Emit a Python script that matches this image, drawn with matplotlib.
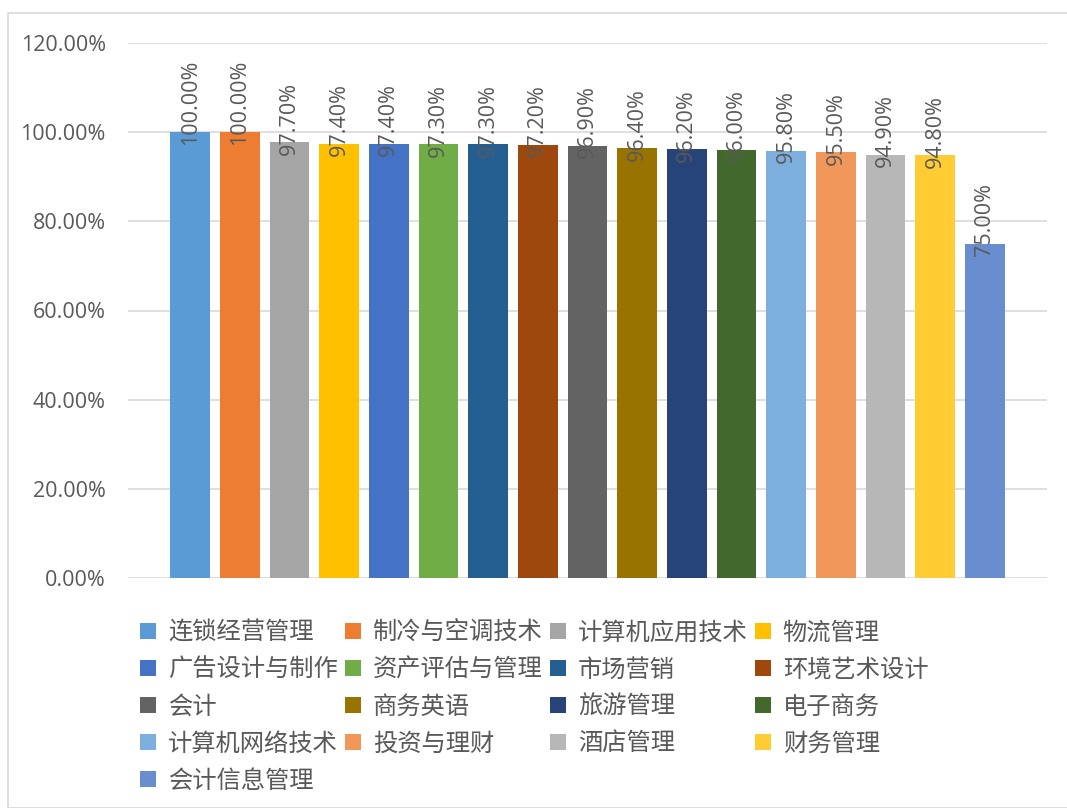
import matplotlib
matplotlib.use("Agg")
import matplotlib.pyplot as plt
from matplotlib.patches import Patch, Rectangle
from matplotlib.ticker import FuncFormatter

plt.rcParams["font.family"] = ["Noto Sans CJK SC", "DejaVu Sans"]
NUM_FONT = ["Open Sans", "DejaVu Sans"]

# majors and their rates (percent)
majors = ["连锁经营管理", "制冷与空调技术", "计算机应用技术", "物流管理",
          "广告设计与制作", "资产评估与管理", "市场营销", "环境艺术设计",
          "会计", "商务英语", "旅游管理", "电子商务",
          "计算机网络技术", "投资与理财", "酒店管理", "财务管理",
          "会计信息管理"]
rates = [100.00, 100.00, 97.70, 97.40, 97.40, 97.30, 97.30, 97.20,
         96.90, 96.40, 96.20, 96.00, 95.80, 95.50, 94.90, 94.80, 75.00]
colors = ["#5B9BD5", "#ED7D31", "#A5A5A5", "#FFC000", "#4472C4", "#70AD47",
          "#255E91", "#9E480E", "#636363", "#997300", "#264478", "#43682B",
          "#7CAFDD", "#F1975A", "#B7B7B7", "#FFCD33", "#698ED0"]

TEXT = "#595959"
GRID = "#D9D9D9"

fig = plt.figure(figsize=(10.67, 8.08), dpi=100)
fig.patches.append(Rectangle((8 / 1067, 0), 1.2, (808 - 13) / 808,
                             transform=fig.transFigure, fill=False,
                             edgecolor=GRID, linewidth=1.2))

ax = fig.add_axes([128 / 1067, (808 - 578) / 808, 919 / 1067, 535 / 808])
x = list(range(len(majors)))
ax.bar(x, rates, width=0.8, color=colors, zorder=3)

for xi, v in zip(x, rates):
    ax.annotate(f"{v:.2f}%", (xi, v), xytext=(0, -9), textcoords="offset points",
                rotation=90, ha="center", va="bottom", fontsize=15.5, color=TEXT,
                family=NUM_FONT, zorder=4)

ax.set_xlim(-1.25, len(majors) - 1 + 1.25)
ax.set_ylim(0, 120)
ax.set_yticks(range(0, 121, 20))
ax.yaxis.set_major_formatter(FuncFormatter(lambda v, p: f"{v:.2f}%"))
ax.tick_params(axis="y", length=0, labelsize=15.5, labelcolor=TEXT, pad=16)
for lab in ax.get_yticklabels():
    lab.set_family(NUM_FONT)
ax.set_xticks([])
ax.grid(axis="y", color=GRID, linewidth=1.2, zorder=0)
for s in ax.spines.values():
    s.set_visible(False)

# legend filled row by row, 4 per row (matplotlib fills columns first)
ncol = 4
order = [i for c in range(ncol) for i in range(c, len(majors), ncol)]
handles = [Patch(facecolor=colors[i], edgecolor="none") for i in order]
labels = [majors[i] for i in order]
fig.legend(handles, labels, ncol=ncol, loc="upper left",
           bbox_to_anchor=(118 / 1067, (808 - 598) / 808),
           frameon=False, fontsize=17.5, labelcolor=TEXT,
           handlelength=0.65, handleheight=0.65, handletextpad=0.5,
           columnspacing=0.3, labelspacing=0.45)

fig.savefig("out.png", dpi=100)
